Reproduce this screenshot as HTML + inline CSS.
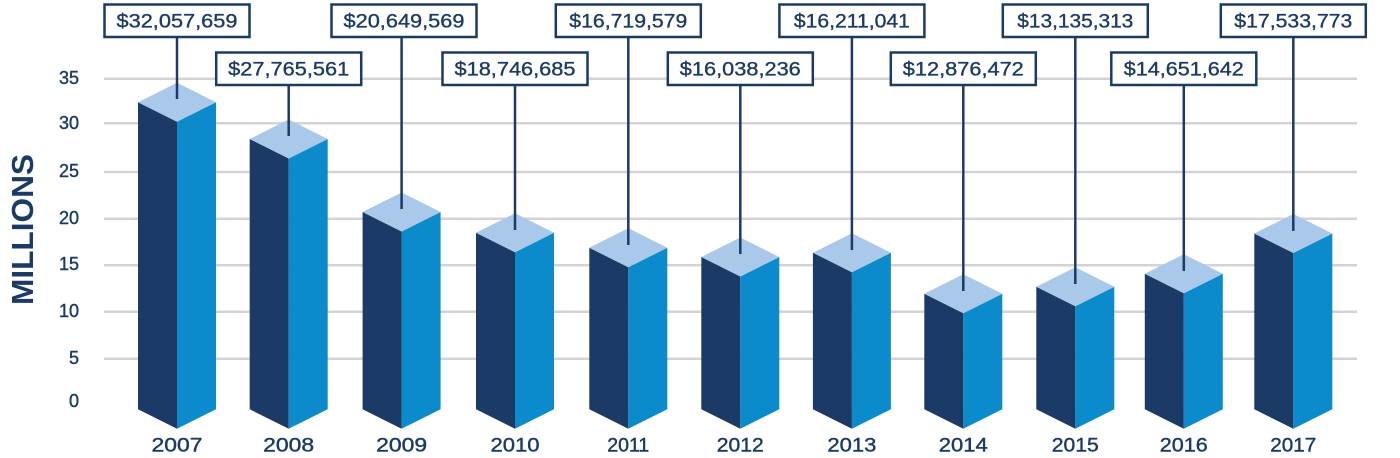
<!DOCTYPE html>
<html><head><meta charset="utf-8"><style>
html,body{margin:0;padding:0;background:#fff;}
svg{display:block;}
text{font-family:"Liberation Sans",sans-serif;fill:#1b3a66;}
.d{fill:#1b3a66}.l{fill:#0b8bcb}.t{fill:#aac8e9}
.bx{fill:#fff;stroke:#1b3a66;stroke-width:2.5}
.ln{stroke:#1b3a66;stroke-width:2.5}
.v{font-size:19px;stroke:#1b3a66;stroke-width:0.35}
.yr{font-size:19px;stroke:#1b3a66;stroke-width:0.4}
</style></head><body>
<svg width="1400" height="458" viewBox="0 0 1400 458" xmlns="http://www.w3.org/2000/svg">
<g stroke="#d3d3d3" stroke-width="2.5">
<line x1="104" y1="78.7" x2="1357" y2="78.7"/>
<line x1="104" y1="123.3" x2="1357" y2="123.3"/>
<line x1="104" y1="172" x2="1357" y2="172"/>
<line x1="104" y1="218.7" x2="1357" y2="218.7"/>
<line x1="104" y1="265.3" x2="1357" y2="265.3"/>
<line x1="104" y1="311.7" x2="1357" y2="311.7"/>
<line x1="104" y1="358.7" x2="1357" y2="358.7"/>
</g>
<g font-size="18" text-anchor="end" stroke="#1b3a66" stroke-width="0.4">
<text x="79" y="84">35</text>
<text x="79" y="129">30</text>
<text x="79" y="177">25</text>
<text x="79" y="224">20</text>
<text x="79" y="270">15</text>
<text x="79" y="317">10</text>
<text x="79" y="364">5</text>
<text x="79" y="407">0</text>
</g>
<text transform="translate(33,305) rotate(-90)" font-size="31" font-weight="bold" textLength="151" lengthAdjust="spacingAndGlyphs">MILLIONS</text>

<polygon class="d" points="138,102.3 177,121.8 177,428.7 138,409.3"/>
<polygon class="l" points="177,121.8 216,102.3 216,409.3 177,428.7"/>
<polygon class="t" points="138,102.3 177,82.8 216,102.3 177,121.8"/>

<polygon class="d" points="249.7,139 288.7,158.5 288.7,428.7 249.7,409.3"/>
<polygon class="l" points="288.7,158.5 327.7,139 327.7,409.3 288.7,428.7"/>
<polygon class="t" points="249.7,139 288.7,119.5 327.7,139 288.7,158.5"/>

<polygon class="d" points="362.6,212 401.6,231.5 401.6,428.7 362.6,409.3"/>
<polygon class="l" points="401.6,231.5 440.6,212 440.6,409.3 401.6,428.7"/>
<polygon class="t" points="362.6,212 401.6,192.5 440.6,212 401.6,231.5"/>

<polygon class="d" points="476,232.7 515,252.2 515,428.7 476,409.3"/>
<polygon class="l" points="515,252.2 554,232.7 554,409.3 515,428.7"/>
<polygon class="t" points="476,232.7 515,213.2 554,232.7 515,252.2"/>

<polygon class="d" points="589.3,247.7 628.3,267.2 628.3,428.7 589.3,409.3"/>
<polygon class="l" points="628.3,267.2 667.3,247.7 667.3,409.3 628.3,428.7"/>
<polygon class="t" points="589.3,247.7 628.3,228.2 667.3,247.7 628.3,267.2"/>

<polygon class="d" points="701.3,257 740.3,276.5 740.3,428.7 701.3,409.3"/>
<polygon class="l" points="740.3,276.5 779.3,257 779.3,409.3 740.3,428.7"/>
<polygon class="t" points="701.3,257 740.3,237.5 779.3,257 740.3,276.5"/>

<polygon class="d" points="812.9,252.7 851.9,272.2 851.9,428.7 812.9,409.3"/>
<polygon class="l" points="851.9,272.2 890.9,252.7 890.9,409.3 851.9,428.7"/>
<polygon class="t" points="812.9,252.7 851.9,233.2 890.9,252.7 851.9,272.2"/>

<polygon class="d" points="924.3,293.7 963.3,313.2 963.3,428.7 924.3,409.3"/>
<polygon class="l" points="963.3,313.2 1002.3,293.7 1002.3,409.3 963.3,428.7"/>
<polygon class="t" points="924.3,293.7 963.3,274.2 1002.3,293.7 963.3,313.2"/>

<polygon class="d" points="1036.3,286.7 1075.3,306.2 1075.3,428.7 1036.3,409.3"/>
<polygon class="l" points="1075.3,306.2 1114.3,286.7 1114.3,409.3 1075.3,428.7"/>
<polygon class="t" points="1036.3,286.7 1075.3,267.2 1114.3,286.7 1075.3,306.2"/>

<polygon class="d" points="1144.8,273.7 1183.8,293.2 1183.8,428.7 1144.8,409.3"/>
<polygon class="l" points="1183.8,293.2 1222.8,273.7 1222.8,409.3 1183.8,428.7"/>
<polygon class="t" points="1144.8,273.7 1183.8,254.2 1222.8,273.7 1183.8,293.2"/>

<polygon class="d" points="1254.3,233.5 1293.3,253 1293.3,428.7 1254.3,409.3"/>
<polygon class="l" points="1293.3,253 1332.3,233.5 1332.3,409.3 1293.3,428.7"/>
<polygon class="t" points="1254.3,233.5 1293.3,214 1332.3,233.5 1293.3,253"/>

<line class="ln" x1="177" y1="37" x2="177" y2="99"/>
<line class="ln" x1="288.7" y1="85" x2="288.7" y2="136"/>
<line class="ln" x1="401.6" y1="37" x2="401.6" y2="209"/>
<line class="ln" x1="515" y1="85" x2="515" y2="230"/>
<line class="ln" x1="628.3" y1="37" x2="628.3" y2="245"/>
<line class="ln" x1="740.3" y1="85" x2="740.3" y2="254"/>
<line class="ln" x1="851.9" y1="37" x2="851.9" y2="250"/>
<line class="ln" x1="963.3" y1="85" x2="963.3" y2="291"/>
<line class="ln" x1="1075.3" y1="37" x2="1075.3" y2="284"/>
<line class="ln" x1="1183.8" y1="85" x2="1183.8" y2="271"/>
<line class="ln" x1="1293.3" y1="37" x2="1293.3" y2="231"/>

<rect class="bx" x="104.5" y="4.5" width="145" height="32.5"/>
<rect class="bx" x="216.2" y="52.5" width="145" height="32.5"/>
<rect class="bx" x="331.5" y="4.5" width="145" height="32.5"/>
<rect class="bx" x="442.5" y="52.5" width="145" height="32.5"/>
<rect class="bx" x="555.8" y="4.5" width="145" height="32.5"/>
<rect class="bx" x="667.8" y="52.5" width="145" height="32.5"/>
<rect class="bx" x="779.4" y="4.5" width="145" height="32.5"/>
<rect class="bx" x="890.8" y="52.5" width="145" height="32.5"/>
<rect class="bx" x="1002.8" y="4.5" width="145" height="32.5"/>
<rect class="bx" x="1111.3" y="52.5" width="145" height="32.5"/>
<rect class="bx" x="1220.8" y="4.5" width="145" height="32.5"/>

<g class="v" text-anchor="middle">
<text x="177" y="27.5" textLength="121" lengthAdjust="spacingAndGlyphs">$32,057,659</text>
<text x="288.7" y="75.5" textLength="121" lengthAdjust="spacingAndGlyphs">$27,765,561</text>
<text x="404" y="27.5" textLength="121" lengthAdjust="spacingAndGlyphs">$20,649,569</text>
<text x="515" y="75.5" textLength="121" lengthAdjust="spacingAndGlyphs">$18,746,685</text>
<text x="628.3" y="27.5" textLength="118" lengthAdjust="spacingAndGlyphs">$16,719,579</text>
<text x="740.3" y="75.5" textLength="121" lengthAdjust="spacingAndGlyphs">$16,038,236</text>
<text x="851.9" y="27.5" textLength="116" lengthAdjust="spacingAndGlyphs">$16,211,041</text>
<text x="963.3" y="75.5" textLength="121" lengthAdjust="spacingAndGlyphs">$12,876,472</text>
<text x="1075.3" y="27.5" textLength="116" lengthAdjust="spacingAndGlyphs">$13,135,313</text>
<text x="1183.8" y="75.5" textLength="120" lengthAdjust="spacingAndGlyphs">$14,651,642</text>
<text x="1293.3" y="27.5" textLength="118" lengthAdjust="spacingAndGlyphs">$17,533,773</text>
</g>

<g class="yr" text-anchor="middle">
<text x="177" y="451.5" textLength="51" lengthAdjust="spacingAndGlyphs">2007</text>
<text x="288.7" y="451.5" textLength="51" lengthAdjust="spacingAndGlyphs">2008</text>
<text x="401.6" y="451.5" textLength="51" lengthAdjust="spacingAndGlyphs">2009</text>
<text x="515" y="451.5" textLength="49" lengthAdjust="spacingAndGlyphs">2010</text>
<text x="628.3" y="451.5" textLength="42" lengthAdjust="spacingAndGlyphs">2011</text>
<text x="740.3" y="451.5" textLength="47" lengthAdjust="spacingAndGlyphs">2012</text>
<text x="851.9" y="451.5" textLength="49" lengthAdjust="spacingAndGlyphs">2013</text>
<text x="963.3" y="451.5" textLength="49" lengthAdjust="spacingAndGlyphs">2014</text>
<text x="1075.3" y="451.5" textLength="47" lengthAdjust="spacingAndGlyphs">2015</text>
<text x="1183.8" y="451.5" textLength="48" lengthAdjust="spacingAndGlyphs">2016</text>
<text x="1293.3" y="451.5" textLength="46" lengthAdjust="spacingAndGlyphs">2017</text>
</g>
</svg>
</body></html>
